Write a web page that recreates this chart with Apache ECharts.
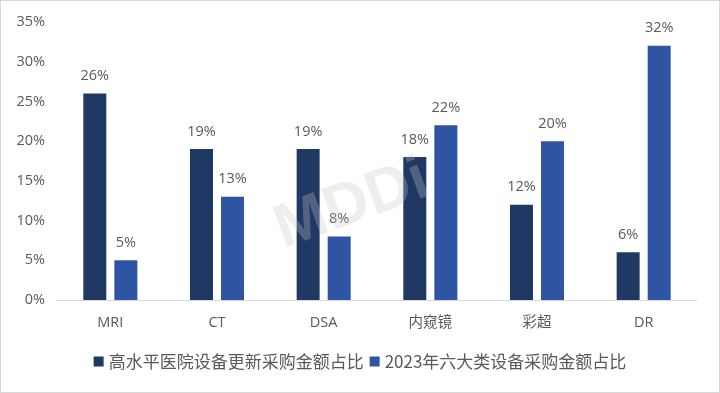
<!DOCTYPE html>
<html><head><meta charset="utf-8">
<script src="https://cdn.jsdelivr.net/npm/echarts@6/dist/echarts.min.js"></script>
<style>html,body{margin:0;padding:0;background:#fff}#c{width:718px;height:391px;border:1px solid #d9d9d9}</style>
</head><body><div id="c"></div>
<script>
const categories = ['MRI','CT','DSA','内窥镜','彩超','DR'];
const seriesNames = ['高水平医院设备更新采购金额占比','2023年六大类设备采购金额占比'];
const highLevel = [26,19,19,18,12,6];
const sixType = [5,13,8,22,20,32];
const yTicks = [0,5,10,15,20,25,30,35];

const chart = echarts.init(document.getElementById('c'));
const lbl = {show:true,position:'top',distance:10,formatter:p=>p.value+'%',color:'#595959',fontSize:14.5,fontFamily:'"Open Sans","Liberation Sans", sans-serif'};
chart.setOption({
  animation:false,
  grid:{left:56,right:22,top:21,bottom:92},
  legend:{bottom:17,left:'center',itemWidth:10,itemHeight:10,itemGap:6,icon:'rect',
    textStyle:{color:'#595959',fontSize:17,fontFamily:'"Noto Sans CJK SC", sans-serif'},data:seriesNames},
  xAxis:{type:'category',data:categories,axisTick:{show:false},
    axisLine:{lineStyle:{color:'#d9d9d9',width:1}},
    axisLabel:{color:'#595959',fontSize:14.5,margin:16,fontFamily:'"Open Sans","Noto Sans CJK SC", sans-serif'}},
  yAxis:{type:'value',min:yTicks[0],max:yTicks[yTicks.length-1],interval:5,splitLine:{show:false},
    axisLabel:{color:'#595959',fontSize:14.5,margin:12,formatter:v=>v+'%',fontFamily:'"Open Sans", sans-serif'}},
  series:[
    {name:seriesNames[0],type:'bar',data:highLevel,barWidth:23,barGap:'35%',itemStyle:{color:'#1f3864'},label:lbl},
    {name:seriesNames[1],type:'bar',data:sixType,barWidth:23,itemStyle:{color:'#2e54a3'},label:lbl}
  ],
  graphic:[{type:'text',left:266,top:148,rotation:0.35,z:100,silent:true,
    style:{text:'MDDi',fontSize:62,fontWeight:'bold',fill:'rgba(200,200,200,0.3)',fontFamily:'"Liberation Sans", sans-serif'}}]
});
</script></body></html>
